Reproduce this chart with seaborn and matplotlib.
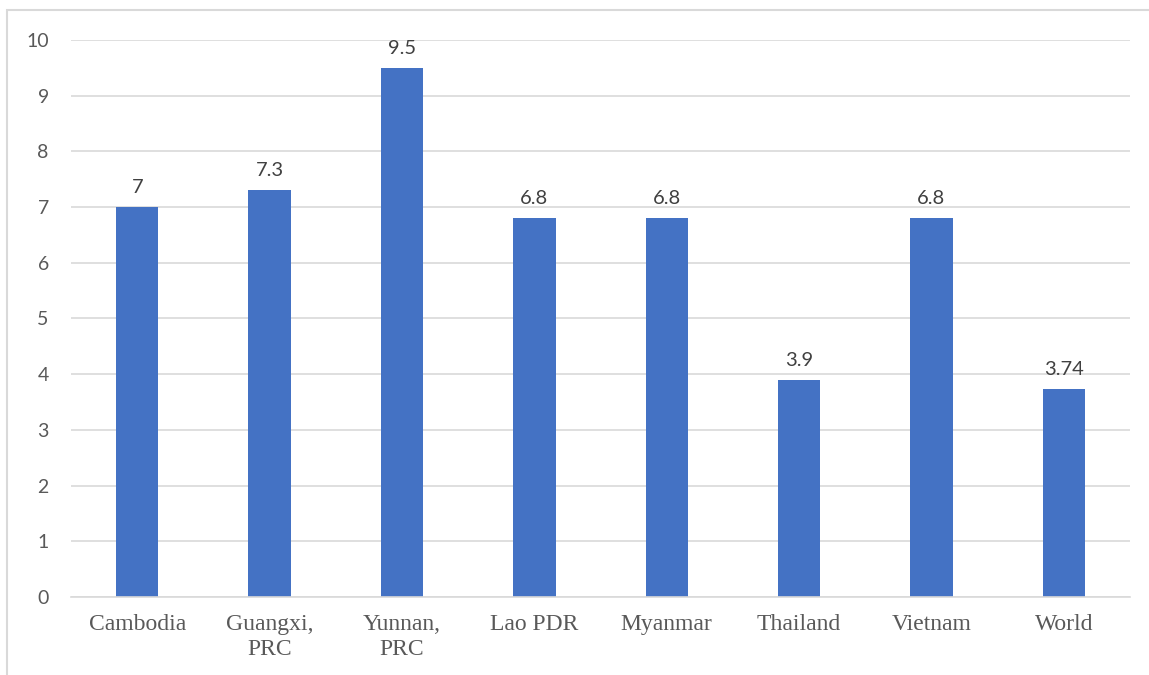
import matplotlib
matplotlib.use("Agg")
import matplotlib.pyplot as plt
import matplotlib.patches as mpatches
import pandas as pd
import seaborn as sns

# Data
regions = ["Cambodia", "Guangxi,\nPRC", "Yunnan,\nPRC", "Lao PDR",
           "Myanmar", "Thailand", "Vietnam", "World"]
values = [7, 7.3, 9.5, 6.8, 6.8, 3.9, 6.8, 3.74]
value_labels = ["7", "7.3", "9.5", "6.8", "6.8", "3.9", "6.8", "3.74"]
y_ticks = [0, 1, 2, 3, 4, 5, 6, 7, 8, 9, 10]

df = pd.DataFrame({"region": regions, "value": values})

sns.set_theme(style="white")
plt.rcParams["font.family"] = ["Lato", "DejaVu Sans"]

fig = plt.figure(figsize=(11.49, 6.75), dpi=100)
ax = fig.add_axes([0.0618, 0.1156, 0.9217, 0.8251])

sns.barplot(data=df, x="region", y="value", color="#4472C4",
            saturation=1, width=0.32, linewidth=0, ax=ax)

ax.set_ylim(0, 10)
ax.set_xlim(-0.5, len(regions) - 0.5)
ax.set_yticks(y_ticks)
ax.set_yticklabels([str(t) for t in y_ticks], fontsize=14, color="#595959")
ax.yaxis.grid(True, color="#d9d9d9", linewidth=1.2)
ax.set_axisbelow(True)
for side in ["top", "right", "left"]:
    ax.spines[side].set_visible(False)
ax.spines["bottom"].set_color("#d9d9d9")
ax.spines["bottom"].set_linewidth(1.2)
ax.tick_params(axis="both", length=0)
ax.tick_params(axis="y", pad=16)
ax.tick_params(axis="x", pad=12)
ax.set_xlabel("")
ax.set_ylabel("")

for lbl in ax.get_xticklabels():
    lbl.set_fontfamily("Liberation Serif")
    lbl.set_fontsize(17)
    lbl.set_color("#595959")
    lbl.set_linespacing(1.3)

ax.bar_label(ax.containers[0], labels=value_labels, padding=8,
             fontsize=14.5, color="#404040")

# Chart frame (top and left edges visible)
frame = mpatches.Rectangle((7 / 1149, -0.05), 1.2, 1 - 10 / 675 + 0.05,
                           transform=fig.transFigure, fill=False,
                           edgecolor="#d9d9d9", linewidth=1.5)
fig.add_artist(frame)

fig.savefig("out.png", dpi=100)
